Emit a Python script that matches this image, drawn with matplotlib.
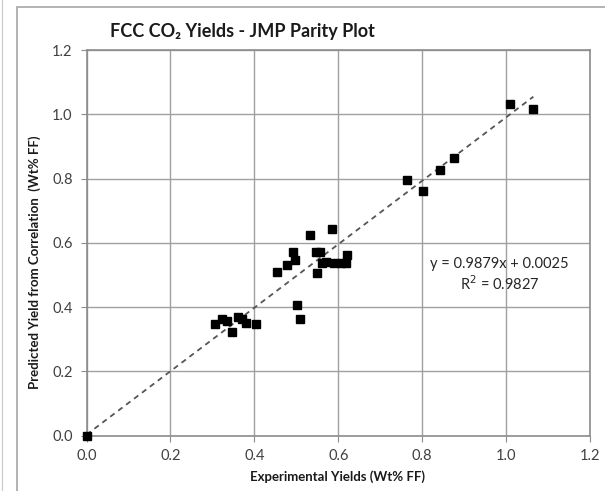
import numpy as np
import matplotlib.pyplot as plt
from matplotlib.patches import Rectangle
from matplotlib.lines import Line2D

plt.rcParams['font.family'] = ['Lato', 'DejaVu Sans']

# experimental vs predicted CO2 yields (Wt% FF)
exp_yield = [0.0,
             0.307, 0.323, 0.335, 0.347, 0.360, 0.371, 0.381, 0.405,
             0.453, 0.478, 0.492, 0.497, 0.532, 0.584, 0.548, 0.556, 0.562,
             0.550, 0.570, 0.590, 0.606, 0.618, 0.620, 0.502, 0.510,
             0.763, 0.803, 0.843, 0.875, 1.010, 1.065]
pred_yield = [0.0,
              0.346, 0.362, 0.357, 0.323, 0.370, 0.362, 0.351, 0.346,
              0.508, 0.530, 0.570, 0.546, 0.624, 0.644, 0.570, 0.572, 0.536,
              0.505, 0.541, 0.536, 0.536, 0.536, 0.561, 0.406, 0.362,
              0.795, 0.760, 0.828, 0.864, 1.031, 1.016]
slope = 0.9879
intercept = 0.0025
r2 = 0.9827

fig = plt.figure(figsize=(6.05, 4.91), dpi=100)
ax = fig.add_axes([86.5 / 605, 1 - 435.5 / 491, (590 - 86.5) / 605, (435.5 - 50) / 491])

# chart border like the excel chart area
fig.patches.append(Rectangle((16.5 / 605, -0.1), 1.2, 1 - 7 / 491 + 0.1,
                             transform=fig.transFigure, fill=False,
                             edgecolor='#a6a6a6', linewidth=1.2))
fig.lines.append(Line2D([1.5 / 605, 1.5 / 605], [0, 1], transform=fig.transFigure,
                        color='#c8c8c8', linewidth=0.8))

ax.grid(True, color='#a0a0a0', linewidth=1.0)
ax.set_axisbelow(True)

xs = np.array([min(exp_yield), max(exp_yield)])
ax.plot(xs, slope * xs + intercept, linestyle=(0, (3, 2.5)), color='#555555', linewidth=1.3)
ax.plot(exp_yield, pred_yield, 's', color='black', markersize=6.3, linestyle='none',
        clip_on=False, zorder=5)

ax.set_xlim(0, 1.2)
ax.set_ylim(0, 1.2)
ticks = np.arange(0, 1.21, 0.2)
ax.set_xticks(ticks)
ax.set_yticks(ticks)
ax.set_xticklabels(['%.1f' % t for t in ticks])
ax.set_yticklabels(['%.1f' % t for t in ticks])
ax.tick_params(length=4, color='#8c8c8c', labelcolor='#404040', labelsize=10.5, pad=6)

for side in ['left', 'bottom', 'top', 'right']:
    ax.spines[side].set_color('#8c8c8c')
    ax.spines[side].set_linewidth(1.2)

ax.text(0.985, 0.5, 'y = %.4fx + %.4f\nR$^2$ = %.4f' % (slope, intercept, r2),
        ha='center', va='center', fontsize=10.5, color='#262626', linespacing=1.25)

fig.text(110 / 605, 1 - 32 / 491, 'FCC CO\u2082 Yields - JMP Parity Plot',
         fontsize=13, fontweight='bold', va='center', ha='left', color='#1a1a1a')
fig.text(338 / 605, 1 - 477 / 491, 'Experimental Yields (Wt% FF)',
         fontsize=9.5, fontweight='bold', ha='center', va='center', color='#1a1a1a')
fig.text(35 / 605, 1 - 262 / 491, 'Predicted Yield from Correlation  (Wt% FF)',
         fontsize=9.5, fontweight='bold', ha='center', va='center', rotation=90,
         color='#1a1a1a')

fig.savefig('out.png', dpi=100)
